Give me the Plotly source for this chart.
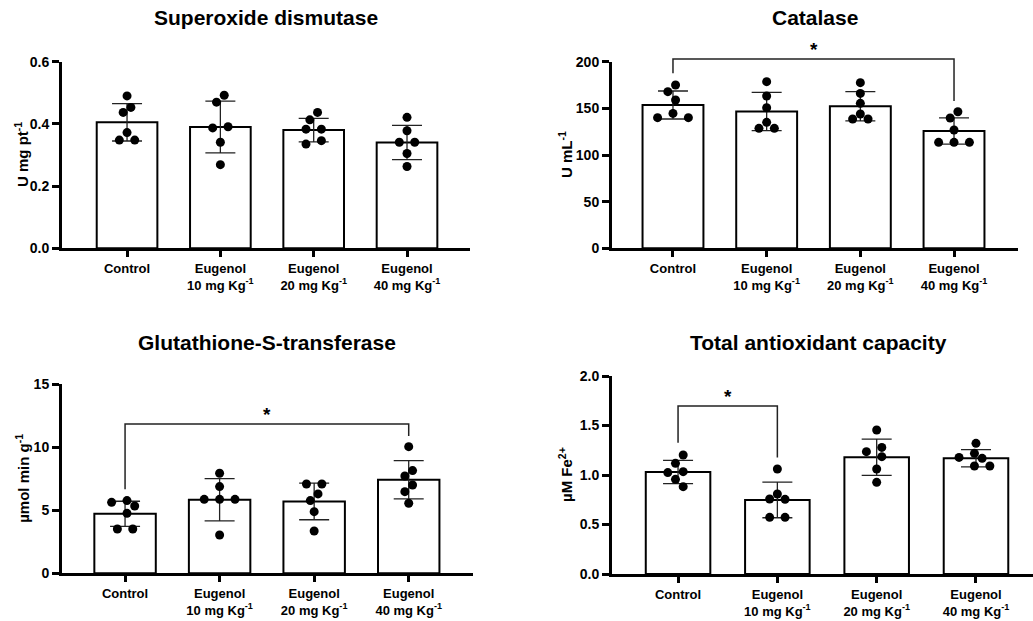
import math
import plotly.graph_objects as go

# ---------------- data ----------------
categories = ["Control",
              "Eugenol<br>10 mg Kg<sup>-1</sup>",
              "Eugenol<br>20 mg Kg<sup>-1</sup>",
              "Eugenol<br>40 mg Kg<sup>-1</sup>"]

titles = ["Superoxide dismutase", "Catalase",
          "Glutathione-S-transferase", "Total antioxidant capacity"]
y_labels = ["U mg pt<sup>-1</sup>", "U mL<sup>-1</sup>",
            "µmol min g<sup>-1</sup>", "µM Fe<sup>2+</sup>"]

sod_points = [[0.490, 0.453, 0.437, 0.372, 0.348, 0.348],
              [0.492, 0.470, 0.391, 0.387, 0.341, 0.269],
              [0.437, 0.413, 0.383, 0.383, 0.346, 0.335],
              [0.421, 0.378, 0.341, 0.341, 0.305, 0.263]]
sod_mean = [0.405, 0.390, 0.380, 0.340]
sod_sd = [0.060, 0.083, 0.038, 0.055]

cat_points = [[175.0, 167.9, 158.9, 144.6, 140.0, 140.0],
              [178.6, 163.2, 150.7, 135.0, 128.6, 128.6],
              [177.5, 166.0, 155.4, 143.9, 138.6, 138.6],
              [146.4, 139.6, 126.8, 113.6, 113.6, 113.6]]
cat_mean = [153.6, 146.6, 152.3, 125.7]
cat_sd = [15.0, 20.5, 15.7, 14.0]

gst_points = [[5.77, 5.63, 5.34, 4.76, 3.52, 3.52],
              [7.94, 6.88, 5.87, 5.87, 5.87, 3.04],
              [7.09, 7.09, 6.30, 5.77, 4.89, 3.36],
              [10.05, 8.15, 7.72, 7.01, 6.48, 5.56]]
gst_mean = [4.72, 5.84, 5.70, 7.42]
gst_sd = [1.00, 1.68, 1.45, 1.52]

tac_points = [[1.202, 1.118, 1.034, 1.024, 0.956, 0.882],
              [1.061, 0.808, 0.758, 0.754, 0.572, 0.572],
              [1.455, 1.279, 1.236, 1.185, 1.061, 0.926],
              [1.320, 1.219, 1.178, 1.168, 1.091, 1.091]]
tac_mean = [1.030, 0.748, 1.180, 1.170]
tac_sd = [0.117, 0.180, 0.183, 0.087]

# significance brackets: (group a, group b, bar height, left end, right end)
cat_sig = (0, 3, 203.0, 187.5, 157.9)
gst_sig = (0, 3, 11.85, 6.67, 10.9)
tac_sig = (0, 1, 1.697, 1.327, 1.178)

y_ticks = [[0, 0.2, 0.4, 0.6], [0, 50, 100, 150, 200],
           [0, 5, 10, 15], [0, 0.5, 1.0, 1.5, 2.0]]

# ---------------- layout geometry (pixels of the 1033x621 canvas) ----------------
W, H = 1033, 621
FONT = "Liberation Sans, Arial, sans-serif"

panels = [
    dict(pts=sod_points, mean=sod_mean, sd=sod_sd, sig=None,
         xpx=(62, 470), ypx=(61.7, 248.3), yr=(0, 0.6), xr=(-0.697, 3.675),
         fmt=".1f", title_y=17, title_x=266, ylab_x=21),
    dict(pts=cat_points, mean=cat_mean, sd=cat_sd, sig=cat_sig,
         xpx=(612, 1018), ypx=(61.7, 248.3), yr=(0, 200), xr=(-0.651, 3.683),
         fmt="d", title_y=17, title_x=815, ylab_x=565),
    dict(pts=gst_points, mean=gst_mean, sd=gst_sd, sig=gst_sig,
         xpx=(62, 473), ypx=(384.3, 573.3), yr=(0, 15), xr=(-0.667, 3.68),
         fmt="d", title_y=342, title_x=267, ylab_x=23),
    dict(pts=tac_points, mean=tac_mean, sd=tac_sd, sig=tac_sig,
         xpx=(612, 1033), ypx=(376, 574), yr=(0, 2), xr=(-0.665, 3.574),
         fmt=".1f", title_y=342, title_x=818, ylab_x=565),
]


def swarm(vals, px_per_y, px_per_x, step=7.7, dia=9.0):
    """Beeswarm-like horizontal offsets (in category units)."""
    n = len(vals)
    order = sorted(range(n), key=lambda i: -vals[i])
    off = [0.0] * n
    placed = []
    cands = [0.0]
    for k in range(1, 6):
        cands += [-k * step, k * step]
    for i in order:
        y = vals[i] * px_per_y
        for c in cands:
            if all(math.hypot(c - px, y - py) >= dia for px, py in placed):
                break
        off[i] = c
        placed.append((c, y))
    # centre each connected cluster
    srt = sorted(range(n), key=lambda i: vals[i])
    groups, cur = [], [srt[0]]
    for a, b in zip(srt[:-1], srt[1:]):
        if (vals[b] - vals[a]) * px_per_y < dia:
            cur.append(b)
        else:
            groups.append(cur)
            cur = [b]
    groups.append(cur)
    for g in groups:
        m = sum(off[i] for i in g) / len(g)
        for i in g:
            off[i] -= m
    return [o / px_per_x for o in off]


fig = go.Figure()
annotations = []
layout_axes = {}
EXT = 30  # extra headroom (px) of the hidden axis used for the significance brackets

for k, p in enumerate(panels, start=1):
    xs = "" if k == 1 else str(k)
    xa, ya = "x" + xs, "y" + xs
    x0, x1 = p["xpx"]
    t0, t1 = p["ypx"]
    xdom = [x0 / W, min(x1 / W, 1.0)]
    ydom = [1 - t1 / H, 1 - t0 / H]
    px_per_x = (x1 - x0) / (p["xr"][1] - p["xr"][0])
    px_per_y = (t1 - t0) / (p["yr"][1] - p["yr"][0])
    idx = list(range(len(categories)))

    fig.add_trace(go.Bar(
        x=idx, y=p["mean"], width=0.65, xaxis=xa, yaxis=ya,
        marker=dict(color="white", line=dict(color="black", width=2)),
        error_y=dict(type="data", array=p["sd"], visible=True,
                     color="#222222", thickness=1.3, width=15),
        showlegend=False, hoverinfo="skip"))

    px_list, py_list = [], []
    for gi, vals in enumerate(p["pts"]):
        offs = swarm(vals, px_per_y, px_per_x)
        px_list += [gi + o for o in offs]
        py_list += vals
    fig.add_trace(go.Scatter(
        x=px_list, y=py_list, mode="markers", xaxis=xa, yaxis=ya,
        marker=dict(color="black", size=9), showlegend=False,
        cliponaxis=False, hoverinfo="skip"))

    if p["sig"] is not None:
        # hidden axis with identical scale but more headroom
        yb_id = str(k + 4)
        yb_ref = "y" + yb_id
        layout_axes["yaxis" + yb_id] = dict(
            domain=[ydom[0], ydom[1] + EXT / H], anchor=xa,
            range=[p["yr"][0], p["yr"][1] + EXT / px_per_y],
            visible=False, fixedrange=True, showgrid=False, zeroline=False,
            automargin=False)
        a, b, ybar, y_left, y_right = p["sig"]
        fig.add_trace(go.Scatter(
            x=[a, a, b, b], y=[y_left, ybar, ybar, y_right], mode="lines",
            xaxis=xa, yaxis=yb_ref, line=dict(color="#222222", width=1.5),
            showlegend=False, hoverinfo="skip"))
        annotations.append(dict(
            x=(a + b) / 2, y=ybar, xref=xa, yref=yb_ref, text="*", showarrow=False,
            yanchor="bottom", yshift=-3,
            font=dict(family=FONT, size=19, color="black", weight="bold")))

    layout_axes["xaxis" + xs] = dict(
        domain=xdom, anchor=ya, range=list(p["xr"]), automargin=False,
        tickmode="array", tickvals=idx, ticktext=categories,
        showline=True, linewidth=3, linecolor="black",
        ticks="outside", ticklen=6, tickwidth=3, tickcolor="black",
        showgrid=False, zeroline=False, fixedrange=True,
        tickfont=dict(family=FONT, size=13, color="black", weight="bold"))
    layout_axes["yaxis" + xs] = dict(
        domain=ydom, anchor=xa, range=list(p["yr"]), automargin=False,
        tickmode="array", tickvals=y_ticks[k - 1], tickformat=p["fmt"],
        showline=True, linewidth=3, linecolor="black",
        ticks="outside", ticklen=7, tickwidth=3, tickcolor="black",
        showgrid=False, zeroline=False, fixedrange=True,
        tickfont=dict(family=FONT, size=14, color="black", weight="bold"))

    # panel title
    annotations.append(dict(
        x=p["title_x"] / W, y=1 - p["title_y"] / H, xref="paper", yref="paper",
        text=titles[k - 1], showarrow=False, xanchor="center", yanchor="middle",
        font=dict(family=FONT, size=21, color="black", weight="bold")))
    # y-axis title
    annotations.append(dict(
        x=p["ylab_x"] / W, y=(ydom[0] + ydom[1]) / 2, xref="paper", yref="paper",
        text=y_labels[k - 1], showarrow=False, textangle=-90,
        xanchor="center", yanchor="middle",
        font=dict(family=FONT, size=15, color="black", weight="bold")))

fig.update_layout(
    width=W, height=H, margin=dict(l=0, r=0, t=0, b=0, autoexpand=False),
    paper_bgcolor="white", plot_bgcolor="rgba(0,0,0,0)",
    font=dict(family=FONT, color="black"),
    annotations=annotations,
    **layout_axes)

fig.write_html("out.html")
